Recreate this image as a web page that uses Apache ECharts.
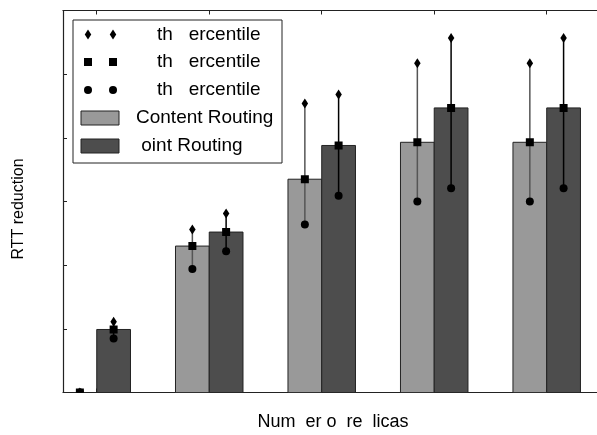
<!DOCTYPE html>
<html>
<head>
<meta charset="utf-8">
<script src="https://cdn.jsdelivr.net/npm/echarts@6/dist/echarts.min.js"></script>
<style>
html,body{margin:0;padding:0;background:#fff;}
#chart{width:597px;height:435px;}
</style>
</head>
<body>
<div id="chart"></div>
<script>
// ---- data ----
const categories = [1, 2, 3, 4, 5];
const seriesNames = ['Content Routing', ' oint Routing'];
const percentileLabels = ['th   ercentile', 'th   ercentile', 'th   ercentile'];
const contentP50 = [0, 2.30, 3.35, 3.93, 3.93];
const contentP95 = [0, 2.56, 4.54, 5.17, 5.17];
const contentP5  = [0, 1.94, 2.64, 3.00, 3.00];
const pointP50   = [0.99, 2.52, 3.88, 4.47, 4.47];
const pointP95   = [1.11, 2.81, 4.68, 5.57, 5.57];
const pointP5    = [0.85, 2.22, 3.09, 3.21, 3.21];
const xTitle = 'Num  er o  re  licas';
const yTitle = 'RTT reduction';

const FONT = '"Liberation Sans", Arial, Helvetica, sans-serif';
const lightColor = '#999999';
const darkColor = '#4d4d4d';
const halfW = 0.15;
const X_MIN = 0.7, X_MAX = 5.447;

function barSeries(name, values, off, color) {
  return {
    type: 'custom', name: name, clip: true, z: 2,
    data: categories.map((c, i) => [c, values[i]]),
    encode: { x: 0, y: 1 },
    renderItem: function (params, api) {
      const x = api.value(0), v = api.value(1);
      const p0 = api.coord([x + off - halfW, v]);
      const p1 = api.coord([x + off + halfW, 0]);
      return {
        type: 'rect',
        shape: { x: p0[0], y: p0[1], width: p1[0] - p0[0], height: p1[1] - p0[1] },
        style: { fill: color, stroke: '#222', lineWidth: 1 }
      };
    }
  };
}

function diamond(cx, cy, w, h) {
  return { type: 'polygon', shape: { points: [[cx, cy - h / 2], [cx + w / 2, cy], [cx, cy + h / 2], [cx - w / 2, cy]] }, style: { fill: '#000' } };
}
function square(cx, cy, s) {
  return { type: 'rect', shape: { x: cx - s / 2, y: cy - s / 2, width: s, height: s }, style: { fill: '#000' } };
}
function dot(cx, cy, r) {
  return { type: 'circle', shape: { cx: cx, cy: cy, r: r }, style: { fill: '#000' } };
}

function errSeries(p5, p50, p95, off, lineColor) {
  return {
    type: 'custom', clip: true, z: 5,
    data: categories.map((c, i) => [c, p5[i], p50[i], p95[i]]),
    encode: { x: 0, y: [1, 2, 3] },
    renderItem: function (params, api) {
      const x = api.value(0) + off;
      const a = api.coord([x, api.value(1)]);
      const m = api.coord([x, api.value(2)]);
      const b = api.coord([x, api.value(3)]);
      return {
        type: 'group',
        children: [
          { type: 'line', shape: { x1: a[0], y1: a[1], x2: b[0], y2: b[1] }, style: { stroke: lineColor, lineWidth: 1.5 } },
          diamond(b[0], b[1], 6.5, 10),
          square(m[0], m[1], 8),
          dot(a[0], a[1], 4)
        ]
      };
    }
  };
}

// ---- legend graphics ----
const rowsY = [34.5, 62, 90, 118, 146];
const legend = [];
legend.push({ type: 'rect', shape: { x: 73, y: 20, width: 209, height: 143 }, style: { fill: '#fff', stroke: '#222', lineWidth: 1 }, z: 10 });
const mk = [
  (x, y) => diamond(x, y, 6.5, 10),
  (x, y) => square(x, y, 8),
  (x, y) => dot(x, y, 4)
];
for (let i = 0; i < 3; i++) {
  [88, 113].forEach(x => { const s = mk[i](x, rowsY[i]); s.z = 11; legend.push(s); });
  legend.push({ type: 'text', x: 157, y: rowsY[i], z: 11, style: { text: percentileLabels[i], font: '19px ' + FONT, fill: '#000', verticalAlign: 'middle' } });
}
[[lightColor, 136], [darkColor, 136]].forEach((d, j) => {
  const y = rowsY[3 + j];
  legend.push({ type: 'rect', z: 11, shape: { x: 81, y: y - 7, width: 38, height: 14 }, style: { fill: d[0], stroke: '#222', lineWidth: 1 } });
  legend.push({ type: 'text', x: d[1], y: y, z: 11, style: { text: seriesNames[j], font: '19px ' + FONT, fill: '#000', verticalAlign: 'middle' } });
});
legend.push({ type: 'text', x: 333, y: 422, style: { text: xTitle, font: '18px ' + FONT, fill: '#000', align: 'center', verticalAlign: 'middle' } });
legend.push({ type: 'text', x: 19, y: 209, rotation: Math.PI / 2, style: { text: yTitle, font: '16px ' + FONT, fill: '#000', align: 'center', verticalAlign: 'middle' } });

const axisLine = { show: true, onZero: false, lineStyle: { color: '#222', width: 1.2 } };
const tick = { show: true, inside: true, length: 4, customValues: categories, lineStyle: { color: '#222', width: 1 } };

const option = {
  animation: false,
  backgroundColor: '#fff',
  grid: { left: 63, top: 10.5, right: 0, bottom: 42.5, containLabel: false },
  xAxis: [
    { type: 'value', min: X_MIN, max: X_MAX, position: 'bottom', axisLine: axisLine, axisTick: tick, axisLabel: { show: false }, splitLine: { show: false } },
    { type: 'value', min: X_MIN, max: X_MAX, position: 'top', axisLine: axisLine, axisTick: tick, axisLabel: { show: false }, splitLine: { show: false } }
  ],
  yAxis: [
    { type: 'value', min: 0, max: 6, interval: 1, position: 'left', axisLine: axisLine, axisTick: { show: true, inside: true, length: 4, lineStyle: { color: '#222' } }, axisLabel: { show: false }, splitLine: { show: false } }
  ],
  series: [
    barSeries(seriesNames[0], contentP50, -halfW, lightColor),
    barSeries(seriesNames[1], pointP50, halfW, darkColor),
    errSeries(contentP5, contentP50, contentP95, -halfW, '#555'),
    errSeries(pointP5, pointP50, pointP95, halfW, '#000')
  ],
  graphic: { elements: legend }
};
const chart = echarts.init(document.getElementById('chart'), null, { renderer: 'canvas' });
chart.setOption(option);
</script>
</body>
</html>
